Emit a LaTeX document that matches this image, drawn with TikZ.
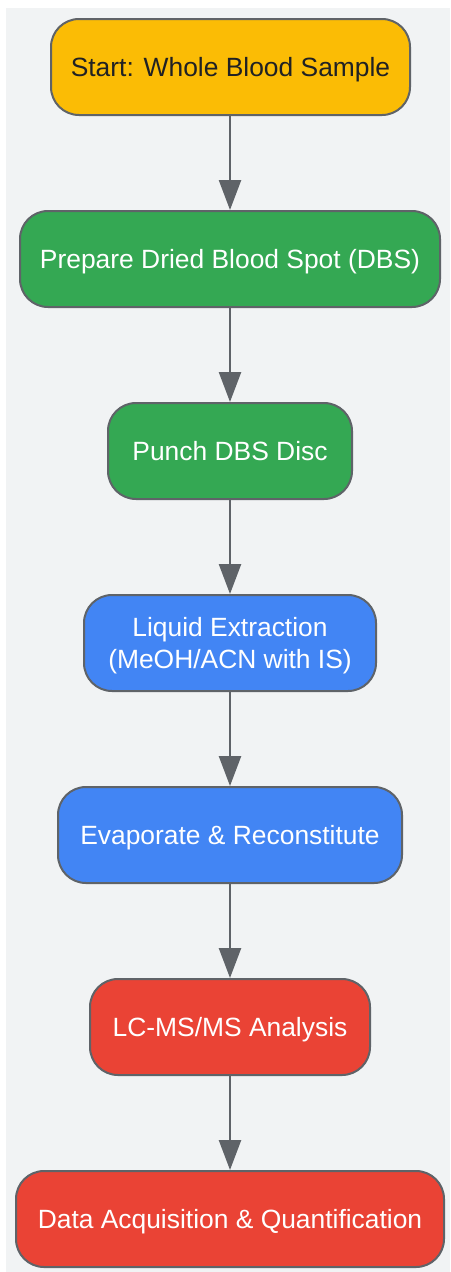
\documentclass[tikz,border=0pt]{standalone}
\usepackage{fontspec}
\setmainfont{Liberation Sans}
\usetikzlibrary{arrows.meta}
\definecolor{bgc}{HTML}{F1F3F4}
\definecolor{edgec}{HTML}{5F6368}
\definecolor{yel}{HTML}{FBBC05}
\definecolor{grn}{HTML}{34A853}
\definecolor{blu}{HTML}{4285F4}
\definecolor{rd}{HTML}{EA4335}
\definecolor{txtd}{HTML}{202124}
\tikzset{
  stepbox/.style={draw=edgec, line width=2pt, rounded corners=28pt, minimum height=96pt,
    inner sep=0pt, align=center, text=white, font=\fontsize{26.4}{32.5}\selectfont,
    text height=19pt, text depth=0pt},
  twoline/.style={text height=51.5pt},
  flow/.style={draw=edgec, line width=2.5pt, -{Triangle[width=22pt,length=30pt]}}
}
\begin{document}
\begin{tikzpicture}[x=1pt,y=-1pt]
\useasboundingbox (0,0) rectangle (450,1272);
\fill[bgc] (6,8) rectangle (450,1272);
\node[stepbox, fill=yel, text=txtd, minimum width=359pt] (n1) at (230.5,67) {Start: Whole Blood Sample};
\node[stepbox, fill=grn, minimum width=420pt] (n2) at (230,259) {Prepare Dried Blood Spot (DBS)};
\node[stepbox, fill=grn, minimum width=244pt] (n3) at (230,451) {Punch DBS Disc};
\node[stepbox, twoline, fill=blu, minimum width=292pt] (n4) at (230,643) {Liquid Extraction\\(MeOH/ACN with IS)};
\node[stepbox, fill=blu, minimum width=344pt] (n5) at (230,835) {Evaporate \& Reconstitute};
\node[stepbox, fill=rd, minimum width=280pt] (n6) at (230,1027) {LC-MS/MS Analysis};
\node[stepbox, fill=rd, minimum width=428pt] (n7) at (230,1219) {Data Acquisition \& Quantification};
\draw[flow] (n1.south -| n2.north) -- (n2.north);
\draw[flow] (n2) -- (n3);
\draw[flow] (n3) -- (n4);
\draw[flow] (n4) -- (n5);
\draw[flow] (n5) -- (n6);
\draw[flow] (n6) -- (n7);
\end{tikzpicture}
\end{document}
